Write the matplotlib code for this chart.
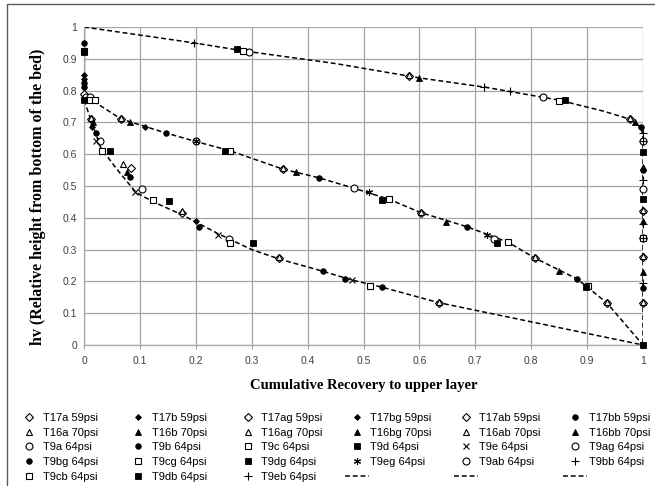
import matplotlib
matplotlib.use('Agg')
import matplotlib.pyplot as plt
from matplotlib.lines import Line2D

# dashed guide curves (Cumulative Recovery, hv)
top_x = [0.0, 0.197, 0.285, 0.45, 0.6, 0.72, 0.85, 0.93, 0.977, 0.996, 1.0, 1.0]
top_y = [1.0, 0.95, 0.925, 0.885, 0.84, 0.81, 0.77, 0.735, 0.71, 0.685, 0.66, 0.0]
mid_x = [0.005, 0.066, 0.146, 0.2, 0.261, 0.356, 0.42, 0.483, 0.546, 0.603, 0.685,
         0.759, 0.807, 0.882, 0.935, 1.0]
mid_y = [0.78, 0.711, 0.667, 0.64, 0.611, 0.553, 0.526, 0.493, 0.458, 0.416, 0.372,
         0.323, 0.273, 0.208, 0.133, 0.0]
low_x = [0.0, 0.012, 0.03, 0.06, 0.093, 0.124, 0.175, 0.24, 0.3, 0.35, 0.427, 0.48,
         0.533, 0.635, 1.0]
low_y = [0.77, 0.71, 0.62, 0.55, 0.48, 0.45, 0.41, 0.35, 0.30, 0.27, 0.232, 0.204,
         0.182, 0.133, 0.0]
edge_x = [0.0, 0.0]
edge_y = [0.77, 1.0]

# measured points per test
names = ['T17a 59psi', 'T17b 59psi', 'T17ag 59psi', 'T17bg 59psi', 'T17ab 59psi', 'T17bb 59psi',
         'T16a 70psi', 'T16b 70psi', 'T16ag 70psi', 'T16bg 70psi', 'T16ab 70psi', 'T16bb 70psi',
         'T9a 64psi', 'T9b 64psi', 'T9c 64psi', 'T9d 64psi', 'T9e 64psi', 'T9ag 64psi',
         'T9bg 64psi', 'T9cg 64psi', 'T9dg 64psi', 'T9eg 64psi', 'T9ab 64psi', 'T9bb 64psi',
         'T9cb 64psi', 'T9db 64psi', 'T9eb 64psi']

xs = {
    'T17a 59psi': [0.012, 0.084, 0.175, 0.348, 0.635],
    'T17b 59psi': [0.014, 0.2],
    'T17ag 59psi': [0.066, 0.356, 0.603, 0.807, 0.935],
    'T17bg 59psi': [0.11, 0.0, 0.0],
    'T17ab 59psi': [0.0, 0.581, 0.977, 1.0, 1.0, 1.0],
    'T17bb 59psi': [0.996, 1.0, 1.0, 0.0, 0.0],
    'T16a 70psi': [0.012, 0.07, 0.175, 0.348, 0.635],
    'T16b 70psi': [0.016, 0.077],
    'T16ag 70psi': [0.066, 0.356, 0.603, 0.807, 0.935],
    'T16bg 70psi': [0.082, 0.379, 0.648, 0.85],
    'T16ab 70psi': [0.581, 0.977, 1.0, 1.0, 1.0],
    'T16bb 70psi': [0.6, 0.985, 1.0, 1.0, 1.0],
    'T9a 64psi': [0.029, 0.104, 0.26],
    'T9b 64psi': [0.021, 0.082, 0.206, 0.427, 0.467, 0.533, 0.0],
    'T9c 64psi': [0.032, 0.124, 0.262, 0.512],
    'T9d 64psi': [0.047, 0.152, 0.302],
    'T9e 64psi': [0.021, 0.091, 0.24, 0.48],
    'T9ag 64psi': [0.2, 0.483, 0.733],
    'T9bg 64psi': [0.146, 0.42, 0.685, 0.882],
    'T9cg 64psi': [0.261, 0.546, 0.759, 0.902],
    'T9dg 64psi': [0.252, 0.533, 0.738, 0.898],
    'T9eg 64psi': [0.2, 0.51, 0.721],
    'T9ab 64psi': [0.004, 0.011, 0.295, 0.821, 1.0, 1.0, 1.0],
    'T9bb 64psi': [0.197, 0.716, 1.0, 1.0, 1.0],
    'T9cb 64psi': [0.0, 0.011, 0.02, 0.285, 0.85, 1.0],
    'T9db 64psi': [0.0, 0.0, 0.274, 0.86, 1.0, 1.0, 1.0],
    'T9eb 64psi': [0.762, 1.0, 1.0, 1.0],
}
ys = {
    'T17a 59psi': [0.71, 0.556, 0.415, 0.273, 0.133],
    'T17b 59psi': [0.686, 0.39],
    'T17ag 59psi': [0.711, 0.553, 0.416, 0.273, 0.133],
    'T17bg 59psi': [0.686, 0.85, 0.835],
    'T17ab 59psi': [0.79, 0.846, 0.71, 0.42, 0.278, 0.132],
    'T17bb 59psi': [0.685, 0.55, 0.18, 0.95, 0.81],
    'T16a 70psi': [0.715, 0.57, 0.42, 0.276, 0.136],
    'T16b 70psi': [0.70, 0.545],
    'T16ag 70psi': [0.714, 0.556, 0.419, 0.276, 0.136],
    'T16bg 70psi': [0.70, 0.545, 0.386, 0.233],
    'T16ab 70psi': [0.849, 0.713, 0.423, 0.281, 0.135],
    'T16bb 70psi': [0.84, 0.70, 0.56, 0.39, 0.23],
    'T9a 64psi': [0.643, 0.49, 0.333],
    'T9b 64psi': [0.667, 0.528, 0.372, 0.232, 0.207, 0.182, 0.825],
    'T9c 64psi': [0.61, 0.456, 0.32, 0.186],
    'T9d 64psi': [0.61, 0.453, 0.32],
    'T9e 64psi': [0.64, 0.48, 0.346, 0.204],
    'T9ag 64psi': [0.64, 0.493, 0.334],
    'T9bg 64psi': [0.667, 0.526, 0.372, 0.208],
    'T9cg 64psi': [0.611, 0.458, 0.323, 0.186],
    'T9dg 64psi': [0.611, 0.455, 0.32, 0.182],
    'T9eg 64psi': [0.64, 0.48, 0.346],
    'T9ab 64psi': [0.78, 0.78, 0.92, 0.78, 0.64, 0.49, 0.337],
    'T9bb 64psi': [0.95, 0.81, 0.667, 0.64, 0.52],
    'T9cb 64psi': [0.925, 0.77, 0.77, 0.925, 0.768, 0.337],
    'T9db 64psi': [0.92, 0.77, 0.93, 0.77, 0.607, 0.46, 0.0],
    'T9eb 64psi': [0.80, 0.38, 0.337, 0.195],
}

open_d = dict(marker='D', ms=3.6, mfc='white', mec='black', mew=0.8)
fill_d = dict(marker='D', ms=3.0, mfc='black', mec='black', mew=0.6)
open_t = dict(marker='^', ms=5, mfc='white', mec='black', mew=0.8)
fill_t = dict(marker='^', ms=4.5, mfc='black', mec='black', mew=0.6)
open_c = dict(marker='o', ms=5, mfc='white', mec='black', mew=0.8)
fill_c = dict(marker='o', ms=4, mfc='black', mec='black', mew=0.6)
open_s = dict(marker='s', ms=5, mfc='white', mec='black', mew=0.8)
fill_s = dict(marker='s', ms=4.5, mfc='black', mec='black', mew=0.6)
cross = dict(marker='x', ms=5, mec='black', mew=0.8)
star = dict(marker=(6, 2, 0), ms=5, mec='black', mew=0.8)
plus = dict(marker='+', ms=6, mec='black', mew=0.8)

styles = [open_d, fill_d, open_d, fill_d, open_d, fill_c,
          open_t, fill_t, open_t, fill_t, open_t, fill_t,
          open_c, fill_c, open_s, fill_s, cross, open_c,
          fill_c, open_s, fill_s, star, open_c, plus,
          open_s, fill_s, plus]

fig = plt.figure(figsize=(6.55, 4.86), dpi=100)
ax = fig.add_axes([84 / 655, 1 - 345 / 486, 559 / 655, 318 / 486])

dash = dict(color='black', lw=1.1, ls=(0, (3.2, 1.9)))
ax.plot(edge_x, edge_y, color='black', lw=0.9, zorder=2)
l1, = ax.plot(top_x, top_y, zorder=2, **dash)
l2, = ax.plot(mid_x, mid_y, zorder=2, **dash)
l3, = ax.plot(low_x, low_y, zorder=2, **dash)

handles = []
for name, st in zip(names, styles):
    h, = ax.plot(xs[name], ys[name], ls='none', zorder=3, clip_on=False, **st)
    handles.append(h)

ax.set_xlim(0, 1)
ax.set_ylim(0, 1)
ticks = [i / 10 for i in range(11)]
ticklabels = ['0', '0.1', '0.2', '0.3', '0.4', '0.5', '0.6', '0.7', '0.8', '0.9', '1']
ax.set_xticks(ticks)
ax.set_xticklabels(ticklabels)
ax.set_yticks(ticks)
ax.set_yticklabels(ticklabels)
ax.grid(True, color='#a6a6a6', lw=0.9)
ax.set_axisbelow(True)
for s in ['top', 'right']:
    ax.spines[s].set_visible(False)
for s in ['left', 'bottom']:
    ax.spines[s].set_color('#a6a6a6')
    ax.spines[s].set_linewidth(0.9)
ax.tick_params(axis='x', length=3, color='#a6a6a6', labelsize=7.5, labelcolor='#404040', pad=5)
ax.tick_params(axis='y', length=0, labelsize=7.5, labelcolor='#404040', pad=5)
for lab in ax.get_xticklabels() + ax.get_yticklabels():
    lab.set_family('Liberation Sans')

ax.set_xlabel('Cumulative Recovery to upper layer', family='Liberation Serif',
              weight='bold', fontsize=10.5, labelpad=9)
ax.set_ylabel('hv (Relative height from bottom of the bed)', family='Liberation Serif',
              weight='bold', fontsize=11.5)
ax.yaxis.set_label_coords(-0.068, 0.465)

# legend: 6 equal-width columns, entries listed row by row
entries = handles + [l1, l2, l3]
labels = names + ['', '', '']
for c in range(6):
    col = [r * 6 + c for r in range(5)]
    fig.legend([entries[i] for i in col], [labels[i] for i in col],
               loc='upper left', bbox_to_anchor=((17 + 109.2 * c) / 655, 1 - 413 / 486),
               frameon=False, handlelength=2.2, handletextpad=0.1,
               labelspacing=0.42, borderaxespad=0, borderpad=0,
               prop={'family': 'Liberation Sans', 'size': 8})

# outer chart border
fig.add_artist(Line2D([7 / 655, 7 / 655, 1.01], [-0.01, 1 - 4 / 486, 1 - 4 / 486],
                      transform=fig.transFigure, color='#595959', lw=1))

fig.savefig('out.png', dpi=100)
